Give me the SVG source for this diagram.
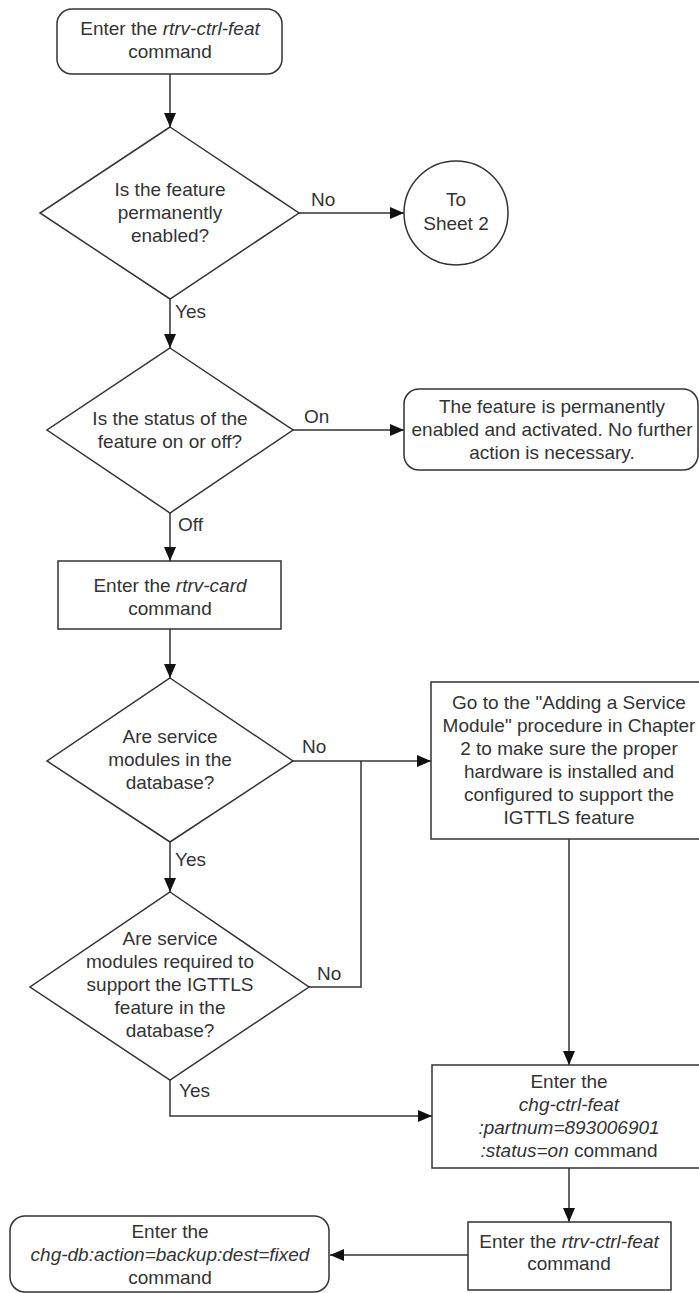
<svg xmlns="http://www.w3.org/2000/svg" width="699" height="1293" viewBox="0 0 699 1293">
<style>
.s{fill:#fff;stroke:#333;stroke-width:1.5}
.t{font-family:"Liberation Sans",Arial,sans-serif;font-size:19px;fill:#333;text-anchor:middle}
.l{font-family:"Liberation Sans",Arial,sans-serif;font-size:19px;fill:#333}
.i{font-style:italic}
.c{fill:none;stroke:#333;stroke-width:1.5}
</style>
<defs>
<marker id="a" markerUnits="userSpaceOnUse" markerWidth="14" markerHeight="14" viewBox="0 0 14 14" refX="14" refY="7" orient="auto">
<path d="M0,1 L14,7 L0,13 Z" fill="#111"/>
</marker>
</defs>
<rect width="699" height="1293" fill="#fff"/>
<g id="connectors">
<path class="c" d="M170,74 V127" marker-end="url(#a)"/>
<path class="c" d="M299,213 H404" marker-end="url(#a)"/>
<path class="c" d="M170,299 V348" marker-end="url(#a)"/>
<path class="c" d="M293,430 H404" marker-end="url(#a)"/>
<path class="c" d="M170,513 V561" marker-end="url(#a)"/>
<path class="c" d="M170,629 V678" marker-end="url(#a)"/>
<path class="c" d="M293,761 H431" marker-end="url(#a)"/>
<path class="c" d="M170,842 V892" marker-end="url(#a)"/>
<path class="c" d="M309,987 H361 V761"/>
<path class="c" d="M170,1080 V1116 H432" marker-end="url(#a)"/>
<path class="c" d="M569,839 V1065" marker-end="url(#a)"/>
<path class="c" d="M569,1168 V1222" marker-end="url(#a)"/>
<path class="c" d="M468,1255 H330" marker-end="url(#a)"/>
<text class="l" x="311" y="206">No</text>
<text class="l" x="175" y="318">Yes</text>
<text class="l" x="304" y="423">On</text>
<text class="l" x="178" y="531">Off</text>
<text class="l" x="302" y="753">No</text>
<text class="l" x="175" y="866">Yes</text>
<text class="l" x="317" y="980">No</text>
<text class="l" x="179" y="1097">Yes</text>
</g>
<g id="start">
<rect class="s" x="57" y="9" width="225" height="65" rx="15"/>
<text class="t" x="170" y="35">Enter the <tspan class="i">rtrv-ctrl-feat</tspan></text>
<text class="t" x="170" y="58">command</text>
</g>
<g id="d1">
<path class="s" d="M170,127 L299,213 L170,299 L40,213 Z"/>
<text class="t" x="170" y="196">Is the feature</text>
<text class="t" x="170" y="219">permanently</text>
<text class="t" x="170" y="242">enabled?</text>
</g>
<g id="sheet2">
<circle class="s" cx="456" cy="213" r="52"/>
<text class="t" x="456" y="206">To</text>
<text class="t" x="456" y="230">Sheet 2</text>
</g>
<g id="d2">
<path class="s" d="M170,348 L293,430 L170,513 L47,430 Z"/>
<text class="t" x="170" y="425">Is the status of the</text>
<text class="t" x="170" y="448">feature on or off?</text>
</g>
<g id="done">
<rect class="s" x="404" y="389" width="294" height="81" rx="15"/>
<text class="t" x="552" y="413">The feature is permanently</text>
<text class="t" x="552" y="436">enabled and activated. No further</text>
<text class="t" x="552" y="459">action is necessary.</text>
</g>
<g id="rtrvcard">
<rect class="s" x="58" y="561" width="223" height="68"/>
<text class="t" x="170" y="592">Enter the <tspan class="i">rtrv-card</tspan></text>
<text class="t" x="170" y="615">command</text>
</g>
<g id="d3">
<path class="s" d="M170,678 L293,761 L170,842 L47,761 Z"/>
<text class="t" x="170" y="743">Are service</text>
<text class="t" x="170" y="766">modules in the</text>
<text class="t" x="170" y="789">database?</text>
</g>
<g id="addsm">
<rect class="s" x="431" y="682" width="277" height="157"/>
<text class="t" x="569" y="709">Go to the "Adding a Service</text>
<text class="t" x="569" y="732">Module" procedure in Chapter</text>
<text class="t" x="569" y="755">2 to make sure the proper</text>
<text class="t" x="569" y="778">hardware is installed and</text>
<text class="t" x="569" y="801">configured to support the</text>
<text class="t" x="569" y="824">IGTTLS feature</text>
</g>
<g id="d4">
<path class="s" d="M170,892 L309,987 L170,1080 L30,987 Z"/>
<text class="t" x="170" y="945">Are service</text>
<text class="t" x="170" y="968">modules required to</text>
<text class="t" x="170" y="991">support the IGTTLS</text>
<text class="t" x="170" y="1014">feature in the</text>
<text class="t" x="170" y="1037">database?</text>
</g>
<g id="chgctrl">
<rect class="s" x="432" y="1065" width="276" height="103"/>
<text class="t" x="569" y="1088">Enter the</text>
<text class="t i" x="569" y="1111">chg-ctrl-feat</text>
<text class="t i" x="569" y="1134">:partnum=893006901</text>
<text class="t" x="569" y="1157"><tspan class="i">:status=on</tspan> command</text>
</g>
<g id="rtrvctrl">
<rect class="s" x="468" y="1222" width="203" height="68"/>
<text class="t" x="569" y="1248">Enter the <tspan class="i">rtrv-ctrl-feat</tspan></text>
<text class="t" x="569" y="1270">command</text>
</g>
<g id="backup">
<rect class="s" x="10" y="1216" width="319" height="76" rx="15"/>
<text class="t" x="170" y="1238">Enter the</text>
<text class="t i" x="170" y="1261">chg-db:action=backup:dest=fixed</text>
<text class="t" x="170" y="1284">command</text>
</g>
</svg>
